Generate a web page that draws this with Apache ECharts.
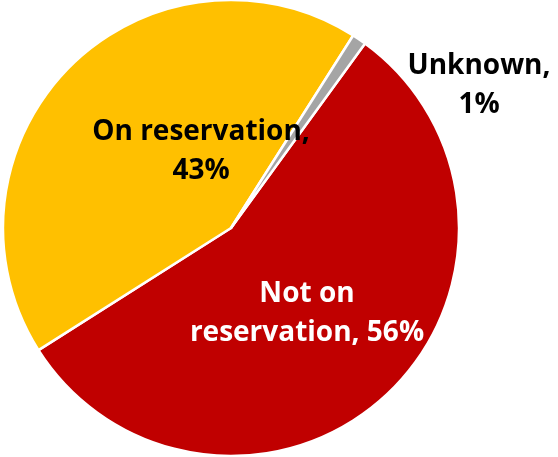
<!DOCTYPE html>
<html>
<head>
<meta charset="utf-8">
<style>
  html, body { margin: 0; padding: 0; background: #fff; }
  #chart { width: 558px; height: 457px; }
</style>
<script src="https://cdn.jsdelivr.net/npm/echarts@6/dist/echarts.min.js"></script>
</head>
<body>
<div id="chart"></div>
<script>
// Residence of respondents
const categories = ['Not on reservation', 'On reservation', 'Unknown'];
const shares = [56, 43, 1];
const colors = ['#C00000', '#FFC000', '#A5A5A5'];
const labelTexts = ['Not on\nreservation, 56%', 'On reservation,\n43%', 'Unknown,\n1%'];

// label anchor points (pixel placement of each text block)
const labelSpots = [[307, 314], [201, 152], [479, 86]];
const labelColors = ['#ffffff', '#000000', '#000000'];

const chart = echarts.init(document.getElementById('chart'));
chart.setOption({
  animation: false,
  series: [{
    type: 'pie',
    center: [231, 228],
    radius: [0, 228],
    startAngle: 54,
    clockwise: true,
    data: categories.map((name, i) => ({
      name,
      value: shares[i],
      itemStyle: { color: colors[i] },
      label: { color: labelColors[i] }
    })),
    itemStyle: { borderColor: '#ffffff', borderWidth: 2.5 },
    label: {
      show: true,
      position: 'inside',
      formatter: p => labelTexts[p.dataIndex],
      fontFamily: 'Open Sans',
      fontWeight: 'bold',
      fontSize: 28,
      lineHeight: 39,
      align: 'center'
    },
    labelLine: { show: false },
    labelLayout: p => ({
      x: labelSpots[p.dataIndex][0],
      y: labelSpots[p.dataIndex][1],
      align: 'center',
      verticalAlign: 'middle'
    })
  }]
});
</script>
</body>
</html>
